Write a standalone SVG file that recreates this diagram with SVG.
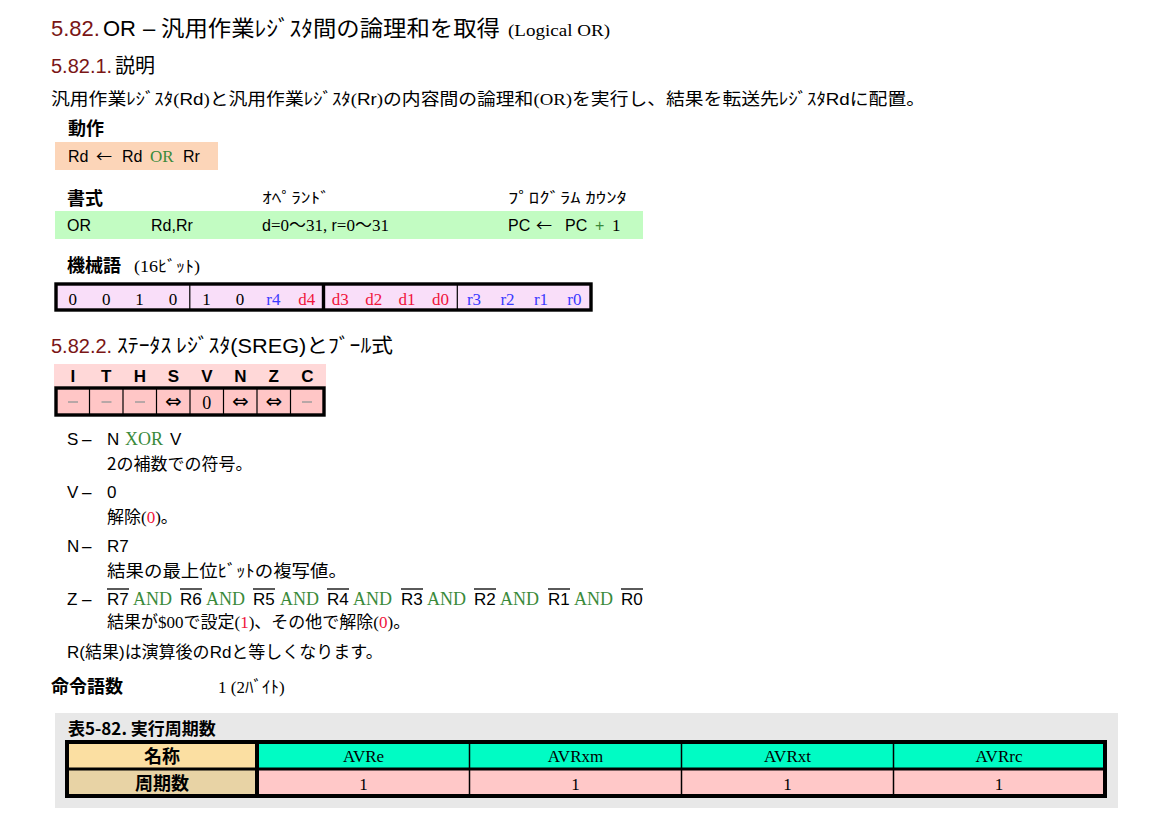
<svg xmlns="http://www.w3.org/2000/svg" width="1169" height="826" viewBox="0 0 1169 826">
<style>
.s{font-family:'Liberation Sans','Noto Sans CJK JP',sans-serif;}
.m{font-family:'Liberation Serif','Noto Sans CJK JP',serif;}
.j{font-family:'Noto Sans CJK JP','Liberation Sans',sans-serif;}
.d{font-family:'DejaVu Sans',sans-serif;}
.b{font-weight:bold;}
.red{fill:#7a1616;}
.grn{fill:#3a8a3a;}
.rd{fill:#f0143c;}
.bl{fill:#3a3aff;}
.thin{stroke:#000;stroke-width:1.2;}
.thick{stroke:#000;stroke-width:3.4;fill:none;}
.ov{stroke:#000;stroke-width:1.3;}
</style>
<rect width="1169" height="826" fill="#fff"/>

<g id="title">
<text y="36" font-size="22" class="s"><tspan x="51" class="red">5.82.</tspan><tspan x="103">OR</tspan><tspan x="143">–</tspan></text>
<text x="161" y="36" font-size="22" class="j" textLength="339" lengthAdjust="spacingAndGlyphs">汎用作業ﾚｼﾞｽﾀ間の論理和を取得</text>
<text x="508" y="36" font-size="17" class="m" textLength="102" lengthAdjust="spacingAndGlyphs">(Logical OR)</text>
</g>

<g id="heading-1">
<text y="73" font-size="20" class="s"><tspan x="51" class="red">5.82.1.</tspan><tspan x="115" class="j">説明</tspan></text>
</g>

<g id="description">
<text x="51" y="105" font-size="17" class="j" textLength="874" lengthAdjust="spacingAndGlyphs">汎用作業ﾚｼﾞｽﾀ<tspan class="m">(</tspan><tspan class="s">Rd</tspan><tspan class="m">)</tspan>と汎用作業ﾚｼﾞｽﾀ<tspan class="m">(</tspan><tspan class="s">Rr</tspan><tspan class="m">)</tspan>の内容間の論理和<tspan class="m">(OR)</tspan>を実行し、結果を転送先ﾚｼﾞｽﾀ<tspan class="s">Rd</tspan>に配置。</text>
</g>

<g id="operation">
<text x="68" y="135" font-size="18" class="j b">動作</text>
<rect x="55" y="142" width="163" height="28" fill="#fcd5b8"/>
<text y="162" font-size="16" class="s"><tspan x="68">Rd</tspan><tspan x="96" class="j">←</tspan><tspan x="122">Rd</tspan><tspan x="150" class="m grn" font-size="17">OR</tspan><tspan x="183">Rr</tspan></text>
</g>

<g id="format">
<text x="67" y="205" font-size="18" class="j b">書式</text>
<text x="262" y="203" font-size="15" class="j" textLength="68" lengthAdjust="spacingAndGlyphs">ｵﾍﾟﾗﾝﾄﾞ</text>
<text x="508" y="203" font-size="15" class="j" textLength="119" lengthAdjust="spacingAndGlyphs">ﾌﾟﾛｸﾞﾗﾑ ｶｳﾝﾀ</text>
<rect x="55" y="211" width="588" height="28" fill="#c2fcc2"/>
<text y="231" font-size="16" class="s"><tspan x="67">OR</tspan><tspan x="151">Rd,Rr</tspan><tspan x="262">d</tspan><tspan class="m" font-size="17">=0～31, </tspan><tspan>r</tspan><tspan class="m" font-size="17">=0～31</tspan><tspan x="508">PC</tspan><tspan x="536" class="j">←</tspan><tspan x="565">PC</tspan><tspan x="595" class="grn">+</tspan><tspan x="612" class="m" font-size="17">1</tspan></text>
</g>

<g id="machine-code">
<text y="272" font-size="18" class="j b"><tspan x="67">機械語</tspan></text>
<text x="134" y="272" font-size="16" class="j" textLength="66" lengthAdjust="spacingAndGlyphs"><tspan class="m">(16</tspan>ﾋﾞｯﾄ<tspan class="m">)</tspan></text>
<rect x="56" y="284" width="535" height="26" fill="#f9def9"/>
<line x1="189.8" y1="284" x2="189.8" y2="310" class="thin"/>
<line x1="457.3" y1="284" x2="457.3" y2="310" class="thin"/>
<line x1="323.5" y1="284" x2="323.5" y2="310" stroke="#000" stroke-width="3.4"/>
<rect x="56" y="284" width="535" height="26" class="thick"/>
<g font-size="17" class="m" text-anchor="middle">
<text x="72.7" y="305">0</text><text x="106.2" y="305">0</text><text x="139.6" y="305">1</text><text x="173" y="305">0</text>
<text x="206.5" y="305">1</text><text x="240" y="305">0</text><text x="273.4" y="305" class="bl">r4</text><text x="306.8" y="305" class="rd">d4</text>
<text x="340.2" y="305" class="rd">d3</text><text x="373.7" y="305" class="rd">d2</text><text x="407.1" y="305" class="rd">d1</text><text x="440.6" y="305" class="rd">d0</text>
<text x="474" y="305" class="bl">r3</text><text x="507.5" y="305" class="bl">r2</text><text x="541" y="305" class="bl">r1</text><text x="574.4" y="305" class="bl">r0</text>
</g>
</g>

<g id="heading-2">
<text y="353" font-size="20" class="s"><tspan x="51" class="red">5.82.2.</tspan></text>
<text x="117" y="353" font-size="20" class="j" textLength="276" lengthAdjust="spacingAndGlyphs">ｽﾃｰﾀｽ ﾚｼﾞｽﾀ<tspan class="s">(SREG)</tspan>とﾌﾞｰﾙ式</text>
</g>

<g id="sreg">
<rect x="54" y="364" width="272" height="23" fill="#ffd8d8"/>
<g font-size="17" class="s b" text-anchor="middle">
<text x="72.8" y="382">I</text><text x="106.3" y="382">T</text><text x="139.8" y="382">H</text><text x="173.3" y="382">S</text>
<text x="206.8" y="382">V</text><text x="240.3" y="382">N</text><text x="273.8" y="382">Z</text><text x="307.3" y="382">C</text>
</g>
<rect x="56" y="388" width="268" height="27" fill="#ffc6c6"/>
<g class="thin">
<line x1="89.5" y1="388" x2="89.5" y2="415"/><line x1="123" y1="388" x2="123" y2="415"/><line x1="156.5" y1="388" x2="156.5" y2="415"/>
<line x1="190" y1="388" x2="190" y2="415"/><line x1="223.5" y1="388" x2="223.5" y2="415"/><line x1="257" y1="388" x2="257" y2="415"/><line x1="290.5" y1="388" x2="290.5" y2="415"/>
</g>
<rect x="56" y="388" width="268" height="27" class="thick"/>
<g stroke="#9a9a9a" stroke-width="1.4">
<line x1="68" y1="402" x2="78" y2="402"/><line x1="101.5" y1="402" x2="111.5" y2="402"/><line x1="135" y1="402" x2="145" y2="402"/><line x1="302" y1="402" x2="312" y2="402"/>
</g>
<g text-anchor="middle">
<text x="173.3" y="408" class="d" font-size="20">⇔</text>
<text x="206.8" y="409" class="m" font-size="18">0</text>
<text x="240.3" y="408" class="d" font-size="20">⇔</text>
<text x="273.8" y="408" class="d" font-size="20">⇔</text>
</g>
</g>

<g id="flags" font-size="17">
<text y="445" class="s"><tspan x="67">S</tspan><tspan x="82">–</tspan><tspan x="107">N</tspan><tspan x="125" class="m grn" font-size="18">XOR</tspan><tspan x="170">V</tspan></text>
<text x="107" y="470" class="j">2の補数での符号。</text>
<text y="498" class="s"><tspan x="67">V</tspan><tspan x="82">–</tspan><tspan x="107">0</tspan></text>
<text x="107" y="523" class="j">解除<tspan class="m">(</tspan><tspan class="m rd">0</tspan><tspan class="m">)</tspan>。</text>
<text y="552" class="s"><tspan x="67">N</tspan><tspan x="82">–</tspan><tspan x="107">R7</tspan></text>
<text x="107" y="577" class="j" textLength="240" lengthAdjust="spacingAndGlyphs">結果の最上位ﾋﾞｯﾄの複写値。</text>
<text y="605" class="s"><tspan x="67">Z</tspan><tspan x="82">–</tspan>
<tspan x="107">R7</tspan><tspan x="133" class="m grn" font-size="18">AND</tspan>
<tspan x="180">R6</tspan><tspan x="206" class="m grn" font-size="18">AND</tspan>
<tspan x="253">R5</tspan><tspan x="280" class="m grn" font-size="18">AND</tspan>
<tspan x="327">R4</tspan><tspan x="353" class="m grn" font-size="18">AND</tspan>
<tspan x="401">R3</tspan><tspan x="427" class="m grn" font-size="18">AND</tspan>
<tspan x="474">R2</tspan><tspan x="500" class="m grn" font-size="18">AND</tspan>
<tspan x="548">R1</tspan><tspan x="574" class="m grn" font-size="18">AND</tspan>
<tspan x="621">R0</tspan></text>
<g class="ov">
<line x1="107" y1="589" x2="129" y2="589"/><line x1="180" y1="589" x2="202" y2="589"/><line x1="253" y1="589" x2="275" y2="589"/><line x1="327" y1="589" x2="349" y2="589"/>
<line x1="401" y1="589" x2="423" y2="589"/><line x1="474" y1="589" x2="496" y2="589"/><line x1="548" y1="589" x2="570" y2="589"/><line x1="621" y1="589" x2="643" y2="589"/>
</g>
<text x="107" y="628" class="j">結果が<tspan class="m">$00</tspan>で設定<tspan class="m">(</tspan><tspan class="m rd">1</tspan><tspan class="m">)</tspan>、その他で解除<tspan class="m">(</tspan><tspan class="m rd">0</tspan><tspan class="m">)</tspan>。</text>
<text x="67" y="658" class="j"><tspan class="s">R(</tspan>結果<tspan class="s">)</tspan>は演算後の<tspan class="s">Rd</tspan>と等しくなります。</text>
</g>

<g id="instruction-words">
<text x="51" y="693" font-size="18" class="j b">命令語数</text>
<text x="218" y="693" font-size="17" class="j"><tspan class="m">1 (2</tspan>ﾊﾞｲﾄ<tspan class="m">)</tspan></text>
</g>

<g id="cycle-table">
<rect x="55" y="713" width="1063" height="95" fill="#e8e8e8"/>
<text x="68" y="735" font-size="17" class="j b">表5-82. 実行周期数</text>
<rect x="67" y="742" width="190" height="27" fill="#fbdfa2"/>
<rect x="257" y="742" width="848" height="27" fill="#00fcc4"/>
<rect x="67" y="769" width="190" height="27" fill="#e8d3a5"/>
<rect x="257" y="769" width="848" height="27" fill="#ffc8c8"/>
<g stroke="#000" stroke-width="1.5">
<line x1="469.5" y1="742" x2="469.5" y2="796"/><line x1="681.5" y1="742" x2="681.5" y2="796"/><line x1="893.5" y1="742" x2="893.5" y2="796"/>
</g>
<line x1="67" y1="769" x2="1105" y2="769" stroke="#000" stroke-width="3"/>
<line x1="257" y1="742" x2="257" y2="796" stroke="#000" stroke-width="4"/>
<rect x="67" y="742" width="1038" height="54" fill="none" stroke="#000" stroke-width="4"/>
<g text-anchor="middle">
<text x="162" y="763" font-size="18" class="j b">名称</text>
<text x="162" y="790" font-size="18" class="j b">周期数</text>
<g font-size="17" class="m">
<text x="363.5" y="762">AVRe</text><text x="575.5" y="762">AVRxm</text><text x="787.5" y="762">AVRxt</text><text x="999" y="762">AVRrc</text>
<text x="363.5" y="790">1</text><text x="575.5" y="790">1</text><text x="787.5" y="790">1</text><text x="999" y="790">1</text>
</g>
</g>
</g>
</svg>
